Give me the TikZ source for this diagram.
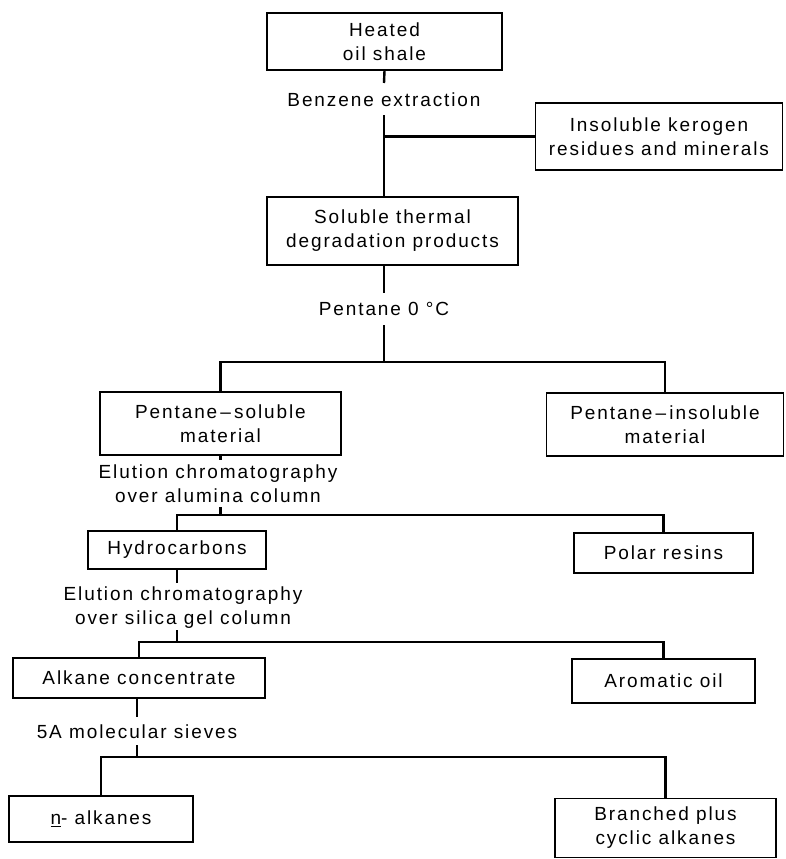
\documentclass[tikz,border=0pt]{standalone}
\usepackage{fontspec}
\setmainfont{Liberation Sans}[LetterSpace=10]
\newcommand\labfont{\fontsize{19}{24}\selectfont}
\begin{document}
\begin{tikzpicture}[x=1pt,y=-1pt,
  box/.style={draw, line width=1.1pt, inner sep=0pt, align=center, font=\labfont},
  lbl/.style={inner sep=0pt, align=center, font=\labfont},
  conn/.style={line width=2.4pt}]
\useasboundingbox[fill=white] (0,0) rectangle (785,859);
% boxes
\node[box, minimum width=235pt, minimum height=57pt] (heated) at (384.5,41.5) {Heated\\oil shale};
\node[box, minimum width=247pt, minimum height=67pt] (insol) at (659,136.5) {Insoluble kerogen\\residues and minerals};
\node[box, minimum width=251pt, minimum height=68pt] (soluble) at (392.5,231) {Soluble thermal\\degradation products};
\node[box, minimum width=241pt, minimum height=63pt] (psol) at (220.5,423.5) {Pentane\,–\,soluble\\material};
\node[box, minimum width=237pt, minimum height=63pt] (pinsol) at (665,424.5) {Pentane\,–\,insoluble\\material};
\node[box, minimum width=178pt, minimum height=38pt] (hydro) at (177,550) {Hydrocarbons};
\node[box, minimum width=179pt, minimum height=40pt] (polar) at (663.5,553) {Polar resins};
\node[box, minimum width=252pt, minimum height=40pt] (alkane) at (139,678) {Alkane concentrate};
\node[box, minimum width=183pt, minimum height=44pt] (arom) at (663.5,681) {Aromatic oil};
\node[box, minimum width=184pt, minimum height=46pt] (nalk) at (101,819) {\underline{n}- alkanes};
\node[box, minimum width=221pt, minimum height=59pt] (branched) at (665.5,828) {Branched plus\\cyclic alkanes};
% labels
\node[lbl] (benz) at (384,100) {Benzene extraction};
\node[lbl] (pent) at (384,309) {Pentane 0 °C};
\node[lbl] (elu1) at (218,484) {Elution chromatography\\over alumina column};
\node[lbl] (elu2) at (183,608) {Elution chromatography\\over silica gel column};
\node[lbl] (sieves) at (137,732) {5A molecular sieves};
% junction coordinates
\coordinate (t1) at (384,83);
\coordinate (t2) at (384,115);
\coordinate (t3) at (384,293);
\coordinate (t4) at (384,325);
\coordinate (j1) at (384,362);
\coordinate (t5) at (220.5,460);
\coordinate (t6) at (220.5,507);
\coordinate (j2) at (220.5,515);
\coordinate (t7) at (177,583);
\coordinate (t8) at (177,630);
\coordinate (j3) at (177,642);
\coordinate (t9) at (137,717);
\coordinate (t10) at (137,745);
\coordinate (j4) at (137,757);
% connectors
\draw[conn] (heated.south) -- (t1);
\draw[conn] (t2) -- (t2 |- soluble.north);
\draw[conn] (t2 |- insol.west) -- (insol.west);
\draw[conn] (t3 |- soluble.south) -- (t3);
\draw[conn] (t4) -- (j1);
\draw[conn] (psol.north) -- (psol.north |- j1) -- (pinsol.north |- j1) -- (pinsol.north);
\draw[conn] (psol.south) -- (t5);
\draw[conn] (t6) -- (j2);
\draw[conn] (hydro.north) -- (hydro.north |- j2) -- (polar.north |- j2) -- (polar.north);
\draw[conn] (hydro.south) -- (t7);
\draw[conn] (t8) -- (j3);
\draw[conn] (alkane.north) -- (alkane.north |- j3) -- (arom.north |- j3) -- (arom.north);
\draw[conn] (t9 |- alkane.south) -- (t9);
\draw[conn] (t10) -- (j4);
\draw[conn] (nalk.north) -- (nalk.north |- j4) -- (branched.north |- j4) -- (branched.north);
\end{tikzpicture}
\end{document}
